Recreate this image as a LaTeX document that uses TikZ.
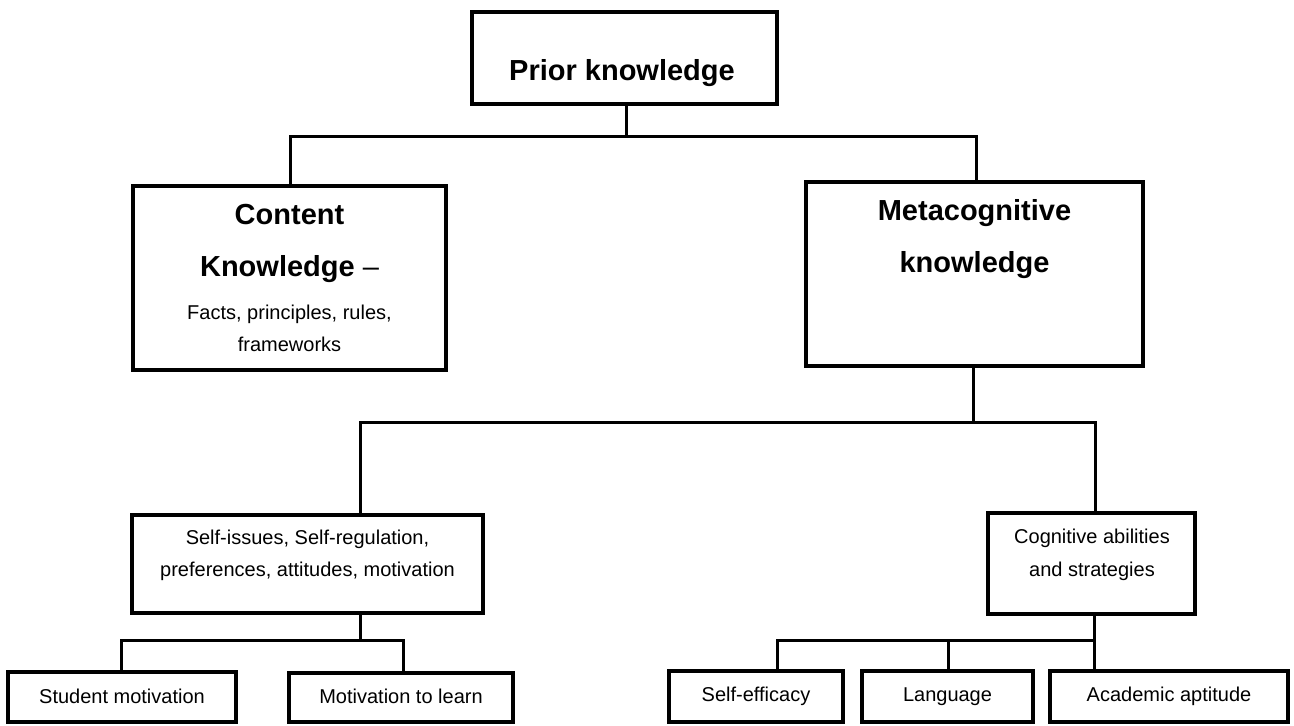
\documentclass[tikz,border=0pt]{standalone}
\usepackage{fontspec}
\setmainfont{Liberation Sans}
\tikzset{
  box/.style={draw=black, line width=1.8pt, inner sep=0pt, fill=white},
  conn/.style={draw=black, line width=1.5pt},
  big/.style={anchor=base, inner sep=0pt, font=\fontsize{14.5}{17}\selectfont\bfseries},
  small/.style={anchor=base, inner sep=0pt, font=\fontsize{10}{12}\selectfont},
}
\begin{document}
\begin{tikzpicture}[x=0.5pt, y=-0.5pt]
\useasboundingbox (0,0) rectangle (1294,726);
% boxes
\node[box, minimum width=152.5pt, minimum height=46pt] (prior) at (624.5,58) {};
\node[box, minimum width=156.5pt, minimum height=92pt] (content) at (289.5,278) {};
\node[box, minimum width=168.5pt, minimum height=92pt] (meta) at (974.5,274) {};
\node[box, minimum width=175.5pt, minimum height=49pt] (selfiss) at (307.5,564) {};
\node[box, minimum width=103.5pt, minimum height=50.5pt] (cog) at (1091.5,563.5) {};
\node[box, minimum width=114pt, minimum height=25pt] (stud) at (122,697) {};
\node[box, minimum width=112pt, minimum height=24.5pt] (motiv) at (401,697.5) {};
\node[box, minimum width=87pt, minimum height=25.5pt] (selfeff) at (756,696.5) {};
\node[box, minimum width=85.5pt, minimum height=25.5pt] (lang) at (947.5,696.5) {};
\node[box, minimum width=119pt, minimum height=25.5pt] (acad) at (1169,696.5) {};
% texts
\node[big] (tprior) at (622,81) {Prior knowledge};
\node[big] (tcont1) at (289.5,225) {Content};
\node[big] (tcont2) at (289.5,277) {Knowledge \normalfont–};
\node[small] (tcont3) at (289.5,320) {Facts, principles, rules,};
\node[small] (tcont4) at (289.5,352) {frameworks};
\node[big] (tmeta1) at (974.5,221) {Metacognitive};
\node[big] (tmeta2) at (974.5,273) {knowledge};
\node[small] (tself1) at (307.5,544) {Self-issues, Self-regulation,};
\node[small] (tself2) at (307.5,576) {preferences, attitudes, motivation};
\node[small] (tcog1) at (1092,543) {Cognitive abilities};
\node[small] (tcog2) at (1092,576) {and strategies};
\node[small] (tstud) at (122,703) {Student motivation};
\node[small] (tmotiv) at (401,703) {Motivation to learn};
\node[small] (tselfeff) at (756,701) {Self-efficacy};
\node[small] (tlang) at (947.5,701) {Language};
\node[small] (tacad) at (1169,701) {Academic aptitude};
% junctions
\coordinate (a) at (626,137);
\coordinate (aL) at (290,137);
\coordinate (aR) at (976,137);
\coordinate (b) at (973,423);
\coordinate (bL) at (360,423);
\coordinate (bR) at (1095,423);
\coordinate (c) at (360,640);
\coordinate (cL) at (121,640);
\coordinate (cR) at (403,640);
\coordinate (d) at (1094,640);
\coordinate (dL) at (777,640);
\coordinate (dM) at (948,640);
% connectors
\draw[conn] (prior.south -| a) -- (a);
\draw[conn] (content.north -| aL) -- (aL) -- (aR) -- (meta.north -| aR);
\draw[conn] (meta.south -| b) -- (b);
\draw[conn] (selfiss.north -| bL) -- (bL) -- (bR) -- (cog.north -| bR);
\draw[conn] (selfiss.south -| c) -- (c);
\draw[conn] (stud.north -| cL) -- (cL) -- (cR) -- (motiv.north -| cR);
\draw[conn] (cog.south -| d) -- (acad.north -| d);
\draw[conn] (selfeff.north -| dL) -- (dL) -- (d);
\draw[conn] (lang.north -| dM) -- (dM);
\end{tikzpicture}
\end{document}
